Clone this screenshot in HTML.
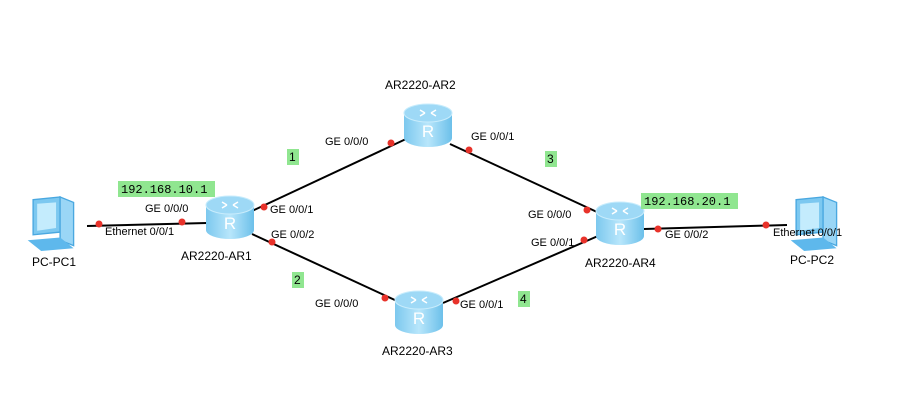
<!DOCTYPE html>
<html><head><meta charset="utf-8"><style>
html,body{margin:0;padding:0;background:#fff;}
svg{display:block;font-family:"Liberation Sans",sans-serif;}
text{font-size:12px;fill:#000;}
.s{font-size:11px;}
.m{font-family:"Liberation Mono",monospace;font-size:12px;}
</style></head><body>
<svg width="909" height="401" viewBox="0 0 909 401" xmlns="http://www.w3.org/2000/svg">
<defs>
<linearGradient id="rb" x1="0" x2="1" y1="0" y2="0">
<stop offset="0" stop-color="#7cc8ee"/><stop offset="0.5" stop-color="#b8e6fb"/><stop offset="1" stop-color="#6cc0ea"/>
</linearGradient>
<g id="router">
<path d="M-24,9 L-24,34 A24,9 0 0 0 24,34 L24,9 Z" fill="url(#rb)"/>
<ellipse cx="0" cy="9" rx="24" ry="9" fill="#9ed9f6" stroke="#c8ecfc" stroke-width="1"/>
<path d="M-8,6 l5,3 M8,6 l-5,3 M-8,12 l5,-3 M8,12 l-5,-3" stroke="#fff" stroke-width="1.5"/>
<text x="0" y="33" text-anchor="middle" style="font-size:17px;fill:#fff">R</text>
</g>
<g id="pc">
<path d="M-14,-18 L6,-20 L6,6 L-14,8 Z" fill="#7cc8f0" stroke="#4aa8e0"/>
<path d="M-11,-15 L3,-16 L3,3 L-11,5 Z" fill="#c4ecfd"/>
<path d="M6,-20 L16,-16 L16,16 L6,12 Z" fill="#9ad6f6" stroke="#4aa8e0"/>
<path d="M-18,12 L6,10 L16,18 L-8,20 Z" fill="#5eb8ec"/>
</g>
</defs>
<g stroke="#000" stroke-width="2" fill="none">
<line x1="87" y1="226" x2="207" y2="223"/>
<line x1="252" y1="211" x2="406" y2="139"/>
<line x1="450" y1="144" x2="597" y2="212"/>
<line x1="252" y1="234" x2="397" y2="301"/>
<line x1="443" y1="303" x2="598" y2="236"/>
<line x1="644" y1="229" x2="787" y2="225"/>
</g>
<g fill="#e8322a">
<circle cx="99" cy="224" r="3.5"/><circle cx="182" cy="222" r="3.5"/>
<circle cx="264" cy="207" r="3.5"/><circle cx="391" cy="143" r="3.5"/>
<circle cx="469" cy="150" r="3.5"/><circle cx="587" cy="210" r="3.5"/>
<circle cx="272" cy="242" r="3.5"/><circle cx="385" cy="298" r="3.5"/>
<circle cx="456" cy="301" r="3.5"/><circle cx="584" cy="240" r="3.5"/>
<circle cx="658" cy="229" r="3.5"/><circle cx="766" cy="225" r="3.5"/>
</g>
<use href="#router" x="428" y="104"/>
<use href="#router" x="230" y="196"/>
<use href="#router" x="620" y="202"/>
<use href="#router" x="419" y="291"/>
<g transform="translate(52,224) scale(1.35)"><use href="#pc"/></g>
<g transform="translate(815,224) scale(1.35)"><use href="#pc"/></g>
<rect x="118" y="181" width="97" height="16" fill="#90e690"/>
<text class="m" x="121" y="193">192.168.10.1</text>
<rect x="641" y="193" width="97" height="16" fill="#90e690"/>
<text class="m" x="644" y="205">192.168.20.1</text>
<rect x="287" y="149" width="12" height="16" fill="#90e690"/><text x="289" y="161">1</text>
<rect x="292" y="272" width="12" height="16" fill="#90e690"/><text x="294" y="284">2</text>
<rect x="545" y="151" width="12" height="16" fill="#90e690"/><text x="547" y="163">3</text>
<rect x="518" y="291" width="12" height="16" fill="#90e690"/><text x="520" y="303">4</text>
<text x="385" y="89">AR2220-AR2</text>
<text x="181" y="260">AR2220-AR1</text>
<text x="585" y="267">AR2220-AR4</text>
<text x="382" y="355">AR2220-AR3</text>
<text x="32" y="266">PC-PC1</text>
<text x="790" y="264">PC-PC2</text>
<g class="s">
<text class="s" x="145" y="212">GE 0/0/0</text>
<text class="s" x="105" y="235">Ethernet 0/0/1</text>
<text class="s" x="270" y="213">GE 0/0/1</text>
<text class="s" x="271" y="238">GE 0/0/2</text>
<text class="s" x="325" y="145">GE 0/0/0</text>
<text class="s" x="471" y="140">GE 0/0/1</text>
<text class="s" x="528" y="218">GE 0/0/0</text>
<text class="s" x="531" y="246">GE 0/0/1</text>
<text class="s" x="315" y="307">GE 0/0/0</text>
<text class="s" x="460" y="308">GE 0/0/1</text>
<text class="s" x="665" y="238">GE 0/0/2</text>
<text class="s" x="773" y="236">Ethernet 0/0/1</text>
</g>
</svg>
</body></html>
